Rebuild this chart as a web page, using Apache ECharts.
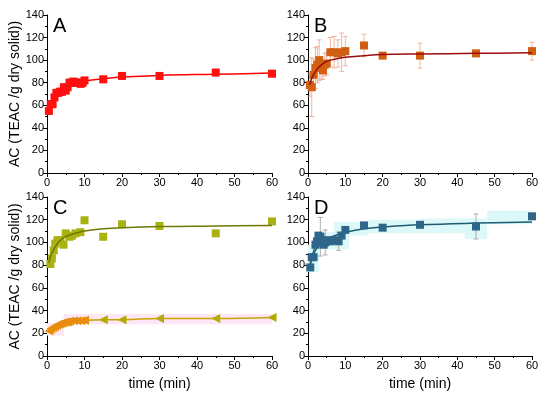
<!DOCTYPE html>
<html><head><meta charset="utf-8">
<script src="https://cdn.jsdelivr.net/npm/echarts@6/dist/echarts.min.js"></script>
<style>html,body{margin:0;padding:0;background:#fff}#c{width:550px;height:398px}</style>
</head><body><div id="c"></div>
<script>
// ---- Data ----
const xTicks = [0,10,20,30,40,50,60];
const yTicks = [0,20,40,60,80,100,120,140];

// Panel A
const aX = [0.5,1,1.5,2,2.5,3,3.5,4,4.5,5,5.5,6,6.5,7,7.5,8,8.5,9,9.5,10,15,20,30,45,60];
const aY = [55,61,61,67,71,71,72,72,76,73,76,80,80,81,80,80,80,79,80,82,83,86,86,89,88];
const aFitX = [0.5,1,2,3,4,5,6,8,10,15,20,30,45,60];
const aFitY = [55,60,66,70,73,76,78,80,81.5,83.5,85,86.5,87.5,88.5];

// Panel B
const bX = [0.5,1,1.5,2,2.5,3,3.5,4,4.5,5,6,7,8,9,10,15,20,30,45,60];
const bY = [78,76,87,93,96,100,93,91,96,97,107,107,106,107,108,113,104,104,106,108];
const bErr = [10,26,14,18,16,18,10,8,10,10,13,14,12,17,13,10,2,11,3,8];
const bFitX = [0.5,1,2,3,4,5,6,8,10,15,20,30,45,60];
const bFitY = [78,84,90,94,97,99,100,101.5,102.5,104,105,105.5,106,106.5];

// Panel C (squares)
const cX = [0.9,1.3,1.8,2.2,2.8,3.6,4.4,5,6,6.7,7.6,8.9,10,15,20,30,45,60];
const cY = [81,86,93,99,102,102,98,108,105,106,108,109,119.5,105,116,114.5,108,118.5];
const cFitX = [0.5,1,2,3,4,5,6,8,10,15,20,30,45,60];
const cFitY = [82,88,95,100,103,105,106.5,108.5,110,112,113,114,114.5,115];
// Panel C (triangles)
const tX = [0.5,1,1.5,2,2.5,3,3.5,4,4.5,5,5.5,6,7,8,9,10,15,20,30,45,60];
const tY = [22,24,25,26,27,28,28.5,29,29.5,30,30,30.5,31,31,31,31.5,32,32,33,33,34];
// pink band segments [x0,x1,low,high]
const cBand = [[0,4.5,18,29],[4.5,60,28,37]];

// Panel D
const dX = [0.6,1,1.5,2,2.4,2.8,3.3,3.7,4.2,4.6,5.3,6,6.9,8.2,9,10,15,20,30,45,60];
const dY = [78,87,87,98,101,106,105,100,98,100,102,101,102,101,106,111,115,113,115.5,114,123];
const dErr = [0,0,0,0,0,0,17,0,0,11,0,0,0,8,0,0,0,0,0,11,0];
const dFitX = [0.5,1,2,3,4,5,6,8,10,15,20,30,45,60];
const dFitY = [80,86,93,98,101,103,104.5,107,109,112,113.5,115.5,117,118];
const dBand = [[0,3,74,98],[3,11,94,109],[7,16,106,118],[16,30,108,120],[30,45,108,121],[42,48,103,121],[48,60,116,128]];

const yTitle = 'AC (TEAC /g dry solid))';
const xTitle = 'time (min)';
const letters = ['A','B','C','D'];

// ---- Build ----
const zip = (xs, ys) => xs.map((x,i)=>[x,ys[i]]);
const FONT = 'Liberation Sans, Arial, sans-serif';
const grids = [
  {left:47, top:15, width:225, height:158},
  {left:308, top:15, width:224, height:158},
  {left:47, top:197, width:225, height:159},
  {left:308, top:197, width:224, height:159}
];
const xAxes = grids.map((g,i)=>({
  gridIndex:i, type:'value', min:xTicks[0], max:xTicks[xTicks.length-1], interval:xTicks[1]-xTicks[0],
  name: i>=2 ? xTitle : '', nameLocation:'middle', nameGap:21,
  nameTextStyle:{fontFamily:FONT, fontSize:14, color:'#000'},
  axisLine:{onZero:false, lineStyle:{color:'#000', width:1}},
  axisTick:{show:true, inside:false, length:4, lineStyle:{color:'#000'}},
  minorTick:{show:true, splitNumber:2, length:2, lineStyle:{color:'#000'}},
  splitLine:{show:false},
  axisLabel:{fontFamily:FONT, fontSize:11, color:'#000', margin:4}
}));
const yAxes = grids.map((g,i)=>({
  gridIndex:i, type:'value', min:yTicks[0], max:yTicks[yTicks.length-1], interval:yTicks[1]-yTicks[0],
  name: (i%2===0) ? yTitle : '', nameLocation:'middle', nameGap:21, nameRotate:90,
  nameTextStyle:{fontFamily:FONT, fontSize:14, color:'#000'},
  axisLine:{show:true, onZero:false, lineStyle:{color:'#000', width:1}},
  axisTick:{show:true, inside:false, length:4, lineStyle:{color:'#000'}},
  minorTick:{show:true, splitNumber:2, length:2, lineStyle:{color:'#000'}},
  splitLine:{show:false},
  axisLabel:{fontFamily:FONT, fontSize:11, color:'#000', margin:3}
}));

function bandSeries(idx, band, color){
  return {type:'custom', xAxisIndex:idx, yAxisIndex:idx, z:1, silent:true,
    data: band,
    renderItem:(params, api)=>{
      const p0 = api.coord([api.value(0), api.value(3)]);
      const p1 = api.coord([api.value(1), api.value(2)]);
      return {type:'rect', shape:{x:p0[0], y:p0[1], width:p1[0]-p0[0], height:p1[1]-p0[1]},
        style:{fill:color}};
    }};
}
function errSeries(idx, xs, ys, errs, color){
  return {type:'custom', xAxisIndex:idx, yAxisIndex:idx, z:2, silent:true,
    data: xs.map((x,i)=>[x, ys[i]-errs[i], ys[i]+errs[i]]).filter((d,i)=>errs[i]>0),
    renderItem:(params, api)=>{
      const lo = api.coord([api.value(0), api.value(1)]);
      const hi = api.coord([api.value(0), api.value(2)]);
      const w = 2.5;
      const st = {stroke:color, lineWidth:0.8};
      return {type:'group', children:[
        {type:'line', shape:{x1:lo[0],y1:lo[1],x2:hi[0],y2:hi[1]}, style:st},
        {type:'line', shape:{x1:lo[0]-w,y1:lo[1],x2:lo[0]+w,y2:lo[1]}, style:st},
        {type:'line', shape:{x1:hi[0]-w,y1:hi[1],x2:hi[0]+w,y2:hi[1]}, style:st}
      ]};
    }};
}
function lineS(idx, data, color, width, z){
  return {type:'line', xAxisIndex:idx, yAxisIndex:idx, data, smooth:0.4, showSymbol:false, symbol:'none',
    lineStyle:{color, width}, z:z||3, silent:true};
}
function scat(idx, data, color, size, symbol, rotate){
  return {type:'scatter', xAxisIndex:idx, yAxisIndex:idx, data, symbol:symbol||'rect', symbolSize:size,
    symbolRotate:rotate||0, itemStyle:{color, opacity:1}, z:4, silent:true};
}

const tEarly = zip(tX,tY).filter(d=>d[0]<=10);
const tLate = zip(tX,tY).filter(d=>d[0]>=10);

const series = [
  // A
  errSeries(0, aX, aY, aX.map(()=>3), '#ff9090'),
  lineS(0, zip(aFitX,aFitY), '#ff0000', 1.5),
  scat(0, zip(aX,aY), '#ff1010', 8),
  // B
  errSeries(1, bX, bY, bErr, '#eea58a'),
  scat(1, zip(bX,bY), '#d05f12', 8),
  lineS(1, zip(bFitX,bFitY), '#9b0d0d', 1.5, 5),
  // C
  bandSeries(2, cBand, '#fde6f6'),
  lineS(2, zip(tX,tY), '#c9a400', 1.5),
  scat(2, tLate, '#b2ab00', 9, 'triangle', 90),
  scat(2, tEarly, '#e88d0c', 9, 'triangle', 90),
  scat(2, zip(cX,cY), '#a9b210', 8),
  lineS(2, zip(cFitX,cFitY), '#6f7800', 1.5, 5),
  // D
  bandSeries(3, dBand, '#dcf8f8'),
  errSeries(3, dX, dY, dErr, '#999999'),
  {type:'line', xAxisIndex:3, yAxisIndex:3, data: zip(dX,dY).filter(d=>d[0]<=10), showSymbol:false, symbol:'none',
    lineStyle:{color:'#2a6d88', width:1.5}, z:3, silent:true},
  lineS(3, zip(dFitX,dFitY), '#1f5c72', 1.5),
  scat(3, zip(dX,dY), '#2d6689', 8)
];

const graphic = letters.map((t,i)=>({
  type:'text', left: grids[i].left + 6, top: grids[i].top + 1,
  style:{text:t, font:'20px '+FONT, fill:'#000'}
}));

const chart = echarts.init(document.getElementById('c'), null, {renderer:'canvas'});
chart.setOption({
  animation:false, backgroundColor:'#fff',
  grid: grids, xAxis: xAxes, yAxis: yAxes, series, graphic
});
</script></body></html>
